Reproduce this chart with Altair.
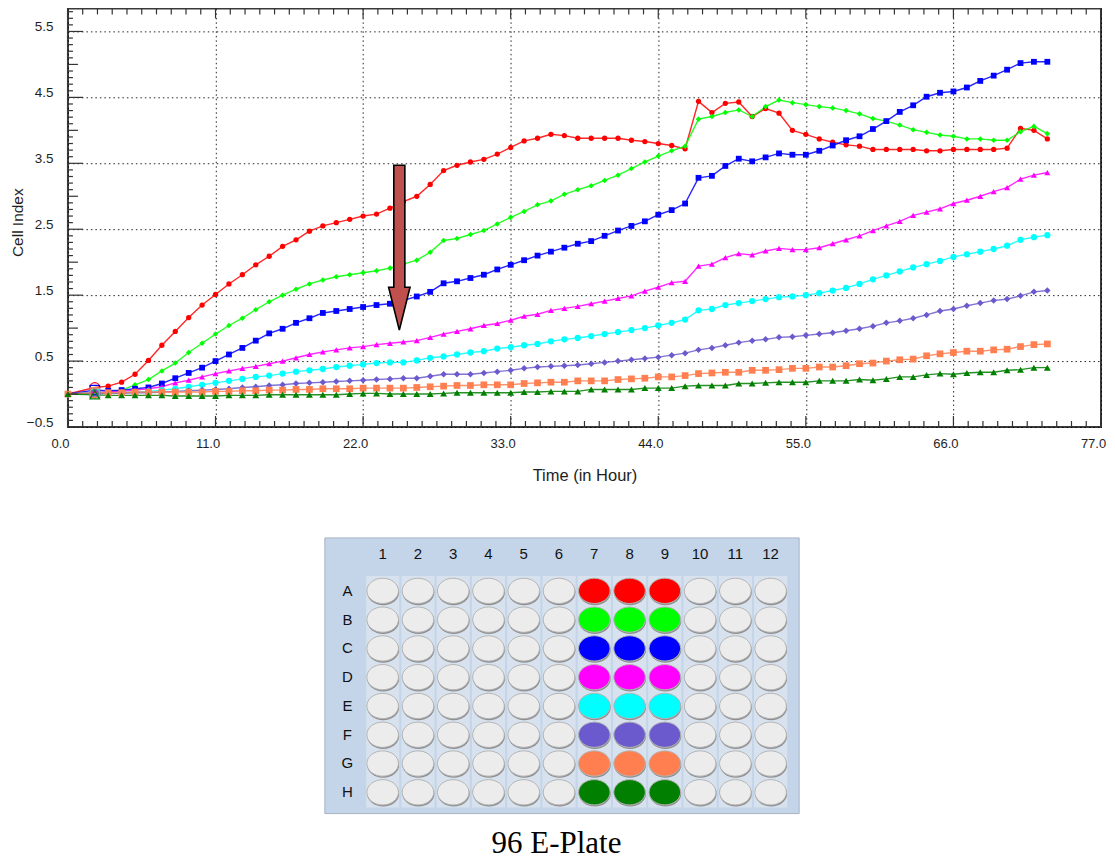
import altair as alt
import numpy as np
import pandas as pd

# ---------------- data ----------------
times = [0, 2] + list(range(3, 74))

ci_A = [0.00, 0.10, 0.12, 0.18, 0.30, 0.51, 0.74, 0.95, 1.16, 1.35,
        1.51, 1.67, 1.81, 1.96, 2.09, 2.24, 2.34, 2.47, 2.55, 2.60,
        2.65, 2.70, 2.73, 2.82, 2.92, 3.00, 3.18, 3.39, 3.47, 3.52,
        3.56, 3.64, 3.74, 3.84, 3.88, 3.94, 3.92, 3.88, 3.88, 3.88,
        3.88, 3.85, 3.83, 3.80, 3.77, 3.72, 4.44, 4.27, 4.41, 4.43,
        4.21, 4.33, 4.26, 4.00, 3.94, 3.87, 3.82, 3.78, 3.76, 3.71,
        3.71, 3.71, 3.71, 3.69, 3.69, 3.71, 3.71, 3.71, 3.71, 3.73,
        4.03, 4.00, 3.87]
ci_B = [0.00, 0.02, 0.03, 0.06, 0.14, 0.22, 0.35, 0.47, 0.63, 0.77,
        0.91, 1.04, 1.15, 1.28, 1.40, 1.50, 1.59, 1.67, 1.73, 1.78,
        1.81, 1.84, 1.87, 1.91, 1.97, 2.03, 2.15, 2.33, 2.36, 2.42,
        2.48, 2.58, 2.68, 2.77, 2.87, 2.93, 3.03, 3.10, 3.16, 3.24,
        3.32, 3.42, 3.52, 3.61, 3.69, 3.76, 4.17, 4.21, 4.27, 4.31,
        4.21, 4.36, 4.46, 4.42, 4.39, 4.36, 4.34, 4.30, 4.25, 4.18,
        4.14, 4.08, 4.01, 3.97, 3.93, 3.91, 3.87, 3.87, 3.85, 3.85,
        3.98, 4.06, 3.95]
ci_C = [0.00, 0.06, 0.05, 0.06, 0.08, 0.10, 0.16, 0.24, 0.32, 0.40,
        0.50, 0.60, 0.70, 0.81, 0.92, 0.99, 1.08, 1.15, 1.23, 1.26,
        1.29, 1.32, 1.35, 1.37, 1.42, 1.48, 1.55, 1.68, 1.71, 1.76,
        1.81, 1.89, 1.96, 2.03, 2.10, 2.16, 2.22, 2.28, 2.32, 2.40,
        2.48, 2.55, 2.62, 2.72, 2.79, 2.89, 3.28, 3.31, 3.46, 3.57,
        3.53, 3.59, 3.65, 3.63, 3.63, 3.69, 3.77, 3.85, 3.91, 4.02,
        4.14, 4.28, 4.38, 4.51, 4.57, 4.59, 4.65, 4.75, 4.83, 4.92,
        5.02, 5.04, 5.04]
ci_D = [0.00, 0.02, 0.03, 0.04, 0.06, 0.08, 0.11, 0.17, 0.21, 0.26,
        0.31, 0.35, 0.39, 0.42, 0.46, 0.50, 0.55, 0.60, 0.64, 0.67,
        0.70, 0.72, 0.75, 0.77, 0.79, 0.81, 0.86, 0.91, 0.95, 0.99,
        1.04, 1.07, 1.12, 1.18, 1.21, 1.27, 1.30, 1.33, 1.37, 1.41,
        1.45, 1.49, 1.56, 1.62, 1.69, 1.71, 1.94, 1.97, 2.07, 2.13,
        2.11, 2.17, 2.21, 2.19, 2.19, 2.22, 2.28, 2.34, 2.40, 2.48,
        2.55, 2.62, 2.71, 2.76, 2.81, 2.89, 2.94, 3.00, 3.07, 3.13,
        3.26, 3.32, 3.36]
ci_E = [0.00, 0.02, 0.01, 0.02, 0.03, 0.04, 0.06, 0.08, 0.11, 0.14,
        0.17, 0.20, 0.23, 0.26, 0.28, 0.31, 0.34, 0.36, 0.38, 0.41,
        0.43, 0.45, 0.47, 0.48, 0.48, 0.51, 0.55, 0.57, 0.60, 0.63,
        0.65, 0.69, 0.71, 0.74, 0.76, 0.80, 0.83, 0.85, 0.88, 0.91,
        0.94, 0.97, 1.00, 1.04, 1.08, 1.13, 1.27, 1.29, 1.35, 1.38,
        1.41, 1.44, 1.47, 1.48, 1.50, 1.53, 1.57, 1.61, 1.67, 1.74,
        1.80, 1.86, 1.92, 1.97, 2.02, 2.08, 2.12, 2.16, 2.20, 2.25,
        2.34, 2.38, 2.41]
ci_F = [0.00, 0.01, 0.01, 0.01, 0.02, 0.02, 0.03, 0.04, 0.05, 0.06,
        0.07, 0.08, 0.10, 0.11, 0.13, 0.14, 0.16, 0.17, 0.18, 0.19,
        0.20, 0.21, 0.22, 0.23, 0.24, 0.24, 0.27, 0.30, 0.30, 0.30,
        0.32, 0.34, 0.36, 0.39, 0.41, 0.42, 0.43, 0.44, 0.46, 0.48,
        0.50, 0.52, 0.54, 0.56, 0.59, 0.62, 0.67, 0.70, 0.74, 0.78,
        0.81, 0.83, 0.86, 0.87, 0.89, 0.91, 0.93, 0.96, 0.99, 1.03,
        1.08, 1.11, 1.15, 1.20, 1.26, 1.29, 1.34, 1.38, 1.42, 1.44,
        1.49, 1.55, 1.57]
ci_G = [0.00, 0.02, 0.02, 0.02, 0.03, 0.03, 0.03, 0.03, 0.03, 0.03,
        0.04, 0.04, 0.05, 0.05, 0.06, 0.06, 0.07, 0.07, 0.08, 0.08,
        0.08, 0.09, 0.09, 0.09, 0.09, 0.10, 0.11, 0.12, 0.13, 0.13,
        0.14, 0.14, 0.14, 0.16, 0.17, 0.18, 0.18, 0.20, 0.20, 0.20,
        0.22, 0.23, 0.24, 0.26, 0.26, 0.28, 0.31, 0.32, 0.33, 0.33,
        0.36, 0.36, 0.37, 0.39, 0.39, 0.41, 0.41, 0.43, 0.46, 0.47,
        0.50, 0.52, 0.53, 0.58, 0.61, 0.63, 0.65, 0.65, 0.67, 0.68,
        0.72, 0.75, 0.76]
ci_H = [0.00, -0.01, -0.02, -0.02, -0.02, -0.02, -0.02, -0.03, -0.03, -0.03,
        -0.03, -0.02, -0.02, -0.02, -0.01, -0.01, -0.01, -0.01, -0.01, -0.01,
        0.00, 0.01, 0.01, 0.00, 0.00, 0.00, 0.00, 0.01, 0.02, 0.02,
        0.02, 0.02, 0.02, 0.03, 0.03, 0.04, 0.04, 0.04, 0.07, 0.07,
        0.07, 0.07, 0.09, 0.09, 0.09, 0.12, 0.13, 0.13, 0.13, 0.16,
        0.16, 0.17, 0.18, 0.18, 0.18, 0.20, 0.20, 0.20, 0.22, 0.21,
        0.23, 0.26, 0.26, 0.29, 0.31, 0.30, 0.32, 0.33, 0.33, 0.36,
        0.37, 0.40, 0.40]

series_rows = ["A", "B", "C", "D", "E", "F", "G", "H"]
series_values = [ci_A, ci_B, ci_C, ci_D, ci_E, ci_F, ci_G, ci_H]
series_colors = ["#FF0000", "#00FF00", "#0000FF", "#FF00FF",
                 "#00FFFF", "#6A5ACD", "#FF7F50", "#007F00"]
series_shapes = ["circle", "diamond", "square", "triangle-up",
                 "circle", "diamond", "square", "triangle-up"]
series_sizes = [28, 48, 58, 52, 30, 48, 58, 52]

x_major = [0, 11, 22, 33, 44, 55, 66, 77]
y_major = [-0.5, 0.5, 1.5, 2.5, 3.5, 4.5, 5.5]

arrow_time = [24.7]
arrow_ci = [2.22]

plate_rows = ["A", "B", "C", "D", "E", "F", "G", "H"]
plate_cols = list(range(1, 13))
used_cols = [7, 8, 9]
plate_title = "96 E-Plate"

# ---------------- tables ----------------
recs = []
for name, vals in zip(series_rows, series_values):
    for t, v in zip(times, vals):
        recs.append({"row": name, "t": t, "ci": v})
df = pd.DataFrame(recs)

xt = np.round(np.arange(0, 77.001, 1.1), 2)
xt_df = pd.DataFrame({"t": xt, "major": [i % 10 == 0 for i in range(len(xt))]})
yt = np.round(np.arange(-0.5, 5.851, 0.1), 2)
yt_kind = ["major" if abs((v + 0.5) - round(v + 0.5)) < 1e-6 else
           ("mid" if abs(v - round(v)) < 1e-6 else "minor") for v in yt]
yt_df = pd.DataFrame({"ci": yt, "kind": yt_kind})

FONT = "Liberation Sans"
W, H = 1034, 419
TXT = "#1e1e1e"

x_scale = alt.Scale(domain=[0, 77], nice=False, zero=False)
y_scale = alt.Scale(domain=[-0.5, 5.85], nice=False, zero=False)

x_axis = alt.Axis(values=x_major, format=".1f", title="Time (in Hour)",
                  grid=True, gridDash=[1.5, 3], gridColor="#000000", gridOpacity=0.85,
                  tickSize=0, domain=False, labelPadding=11, labelOffset=-8,
                  labelFlush=False, labelOverlap=False,
                  labelFont=FONT, labelFontSize=13, labelColor=TXT,
                  titleFont=FONT, titleFontSize=16.5, titleFontWeight="normal",
                  titleColor=TXT, titlePadding=17)
y_axis = alt.Axis(values=y_major, format=".1f", title="Cell Index",
                  grid=True, gridDash=[1.5, 3], gridColor="#000000", gridOpacity=0.85,
                  tickSize=0, domain=False, labelPadding=15, labelOffset=-5,
                  labelFlush=False, labelOverlap=False,
                  labelFont=FONT, labelFontSize=13.5, labelColor=TXT,
                  titleFont=FONT, titleFontSize=15.5, titleFontWeight="normal",
                  titleColor=TXT, titleX=-50, titleY=214, titleBaseline="middle")

X = alt.X("t:Q", scale=x_scale, axis=x_axis)
Y = alt.Y("ci:Q", scale=y_scale, axis=y_axis)
color_enc = alt.Color("row:N", scale=alt.Scale(domain=series_rows, range=series_colors), legend=None)
shape_enc = alt.Shape("row:N", scale=alt.Scale(domain=series_rows, range=series_shapes), legend=None)
size_enc = alt.Size("row:N", scale=alt.Scale(domain=series_rows, range=series_sizes), legend=None)

base = alt.Chart(df).encode(x=X, y=Y, color=color_enc)
lines = base.mark_line(strokeWidth=1.4, opacity=0.85).encode(detail="row:N", order="t:Q")
points = base.transform_filter(alt.datum.t != 2).mark_point(filled=True, opacity=1).encode(
    shape=shape_enc, size=size_enc)
hollow = base.transform_filter(alt.datum.t == 2).mark_point(
    filled=False, opacity=1, strokeWidth=1.3, size=90).encode(shape=shape_enc)

TICK = "#333333"
xt_base = alt.Chart(xt_df).encode(x=X)
xb_minor = xt_base.transform_filter(~alt.datum.major).mark_rule(color=TICK, strokeWidth=1.2).encode(
    y=alt.value(H), y2=alt.value(H - 6))
xb_major = xt_base.transform_filter(alt.datum.major).mark_rule(color=TICK, strokeWidth=1.2).encode(
    y=alt.value(H), y2=alt.value(H - 11))
xt_minor = xt_base.transform_filter(~alt.datum.major).mark_rule(color=TICK, strokeWidth=1.2).encode(
    y=alt.value(0), y2=alt.value(6))
xt_major = xt_base.transform_filter(alt.datum.major).mark_rule(color=TICK, strokeWidth=1.2).encode(
    y=alt.value(0), y2=alt.value(10))
yt_base = alt.Chart(yt_df).encode(y=Y)
yl_minor = yt_base.transform_filter(alt.datum.kind == "minor").mark_rule(color=TICK, strokeWidth=1.2).encode(
    x=alt.value(0), x2=alt.value(5))
yl_mid = yt_base.transform_filter(alt.datum.kind == "mid").mark_rule(color=TICK, strokeWidth=1.2).encode(
    x=alt.value(0), x2=alt.value(10))
yl_major = yt_base.transform_filter(alt.datum.kind == "major").mark_rule(color=TICK, strokeWidth=1.2).encode(
    x=alt.value(0), x2=alt.value(15))

arrow_path = ("M -0.067 -1 L 0.067 -1 L 0.067 0.48 L 0.13 0.48 L 0 1 "
              "L -0.13 0.48 L -0.067 0.48 Z")
arrow = alt.Chart(pd.DataFrame({"t": arrow_time, "ci": arrow_ci})).mark_point(
    shape=arrow_path, size=27225, filled=True, fill="#C0504D", stroke="#000000",
    strokeWidth=1.6, opacity=1, fillOpacity=1).encode(x=X, y=Y)

line_chart = alt.layer(lines, points, hollow, xb_minor, xb_major, xt_minor, xt_major,
                       yl_minor, yl_mid, yl_major, arrow).properties(
    width=W, height=H, view=alt.ViewBackground(stroke="#3a3a3a", strokeWidth=2))

# ---------------- plate ----------------
wells = []
for ri, rname in enumerate(plate_rows):
    for c in plate_cols:
        col = series_colors[ri] if c in used_cols else "#ECECEC"
        wells.append({"r": ri + 1, "c": c, "fill": col})
wells_df = pd.DataFrame(wells)

P_H = 367
px_scale = alt.Scale(domain=[-7.924, 21.368], nice=False, zero=False)
py_scale = alt.Scale(domain=[-2.611, 10.132], nice=False, zero=False, reverse=True)
PX = lambda f: alt.X(f, scale=px_scale, axis=None)
PY = lambda f: alt.Y(f, scale=py_scale, axis=None)

bg_df = pd.DataFrame({"c0": [-0.64], "c1": [12.81], "r0": [-0.84], "r1": [8.74]})
bg = alt.Chart(bg_df).mark_rect(fill="#C4D5E9", stroke="#A9B4C2", strokeWidth=1).encode(
    x=PX("c0:Q"), x2="c1:Q", y=PY("r0:Q"), y2="r1:Q")

stripe_df = pd.DataFrame({"c0": [c - 0.47 for c in plate_cols], "c1": [c + 0.47 for c in plate_cols],
                          "r0": [0.48] * 12, "r1": [8.53] * 12})
stripes = alt.Chart(stripe_df).mark_rect(fill="#D7E2EE").encode(
    x=PX("c0:Q"), x2="c1:Q", y=PY("r0:Q"), y2="r1:Q")

ang = np.linspace(0, 2 * np.pi, 33)[:-1]
ell_path = "M " + " L ".join(f"{np.cos(a):.3f} {0.8 * np.sin(a):.3f}" for a in ang) + " Z"

well_shadow = alt.Chart(wells_df).mark_point(
    shape=ell_path, size=1024, filled=True, fill="#8F8F8F", opacity=1, yOffset=1.5, xOffset=0.5).encode(
    x=PX("c:Q"), y=PY("r:Q"))
well_fill = alt.Chart(wells_df).mark_point(
    shape=ell_path, size=1000, filled=True, opacity=1, stroke="#B4B4B4", strokeWidth=1).encode(
    x=PX("c:Q"), y=PY("r:Q"), fill=alt.Fill("fill:N", scale=None))

col_lab_df = pd.DataFrame({"c": plate_cols, "r": [-0.285] * 12, "lab": [str(c) for c in plate_cols]})
col_labels = alt.Chart(col_lab_df).mark_text(font=FONT, fontSize=15, color="#111111", baseline="middle").encode(
    x=PX("c:Q"), y=PY("r:Q"), text="lab:N")
row_lab_df = pd.DataFrame({"c": [0.0] * 8, "r": list(range(1, 9)), "lab": plate_rows})
row_labels = alt.Chart(row_lab_df).mark_text(font=FONT, fontSize=15, color="#111111", baseline="middle").encode(
    x=PX("c:Q"), y=PY("r:Q"), text="lab:N")
title_df = pd.DataFrame({"c": [5.93], "r": [10.1], "lab": [plate_title]})
title_txt = alt.Chart(title_df).mark_text(font="Liberation Serif", fontSize=31, color="#000000",
                                          baseline="alphabetic").encode(
    x=PX("c:Q"), y=PY("r:Q"), text="lab:N")

plate_chart = alt.layer(bg, stripes, well_shadow, well_fill, col_labels, row_labels, title_txt).properties(
    width=W, height=P_H, view=alt.ViewBackground(stroke="transparent"))

chart = alt.vconcat(line_chart, plate_chart, spacing=0).properties(
    padding={"left": 2, "top": -2, "right": 0, "bottom": 0},
    background="#FFFFFF")

chart.save("out.html", embed_options={"renderer": "svg", "actions": False})
